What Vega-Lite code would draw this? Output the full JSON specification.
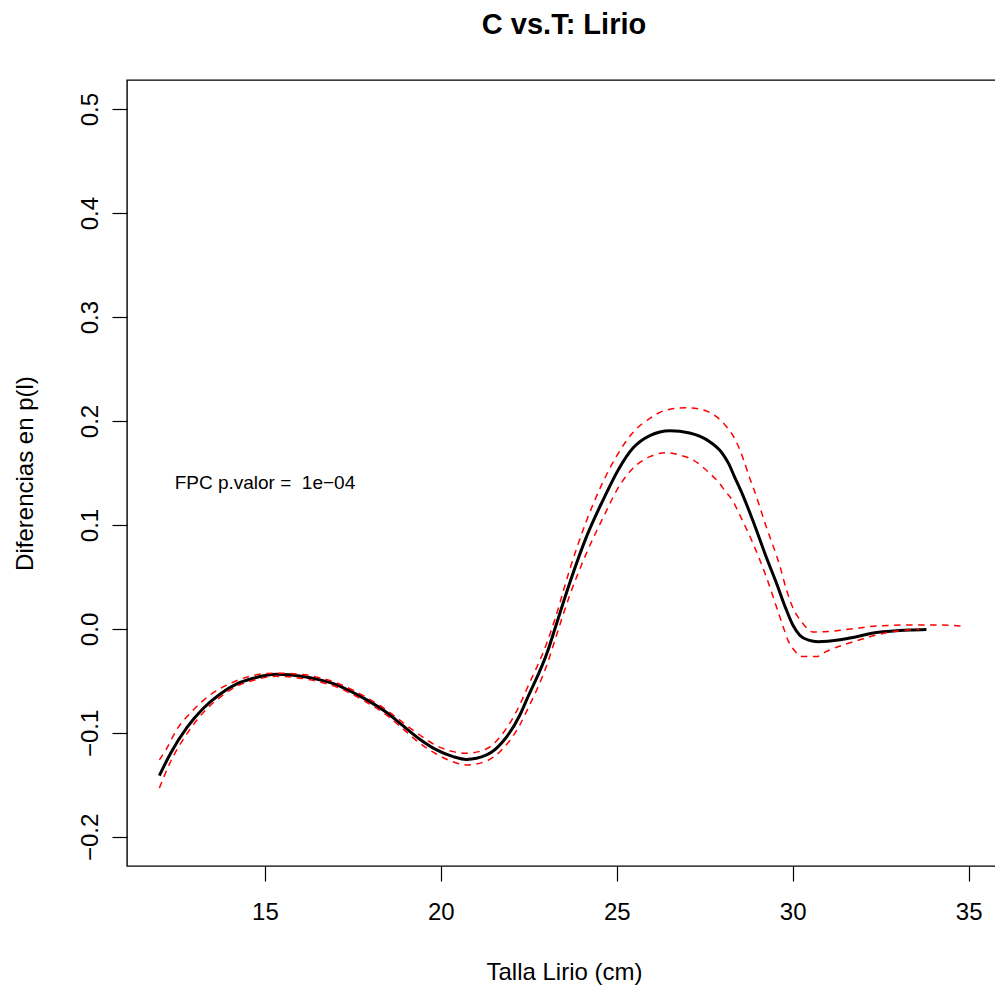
{
  "$schema": "https://vega.github.io/schema/vega-lite/v6.json",
  "width": 874,
  "height": 786,
  "autosize": {"type": "none"},
  "padding": {"left": 127, "top": 80, "right": 0, "bottom": 122},
  "background": "white",
  "config": {
    "font": "Liberation Sans",
    "view": {"stroke": "black", "strokeWidth": 1.4},
    "axis": {
      "grid": false,
      "domain": false,
      "tickColor": "black",
      "tickWidth": 1.2,
      "tickSize": 15,
      "labelFont": "Liberation Sans",
      "labelFontSize": 24,
      "labelColor": "black",
      "titleFont": "Liberation Sans",
      "titleFontSize": 24,
      "titleFontWeight": "normal",
      "titleColor": "black"
    }
  },
  "title": {
    "text": "C vs.T: Lirio",
    "anchor": "middle",
    "frame": "group",
    "font": "Liberation Sans",
    "fontSize": 29,
    "fontWeight": "bold",
    "color": "black",
    "baseline": "alphabetic",
    "offset": 17
  },
  "datasets": {
    "dif": [
      {"talla": 12.00, "d": -0.141}, {"talla": 12.32, "d": -0.1195}, {"talla": 12.79, "d": -0.0945},
      {"talla": 13.25, "d": -0.0763}, {"talla": 13.72, "d": -0.0628}, {"talla": 14.20, "d": -0.0529},
      {"talla": 14.67, "d": -0.0474}, {"talla": 15.33, "d": -0.0436}, {"talla": 16.09, "d": -0.0458},
      {"talla": 16.56, "d": -0.049}, {"talla": 17.04, "d": -0.0538}, {"talla": 17.51, "d": -0.0612},
      {"talla": 17.98, "d": -0.0699}, {"talla": 18.46, "d": -0.0804}, {"talla": 18.93, "d": -0.0933},
      {"talla": 19.40, "d": -0.106}, {"talla": 19.88, "d": -0.1163}, {"talla": 20.35, "d": -0.1228},
      {"talla": 20.73, "d": -0.1255}, {"talla": 21.30, "d": -0.1212}, {"talla": 21.77, "d": -0.108},
      {"talla": 22.25, "d": -0.0825}, {"talla": 22.44, "d": -0.068}, {"talla": 23.05, "d": -0.020},
      {"talla": 23.24, "d": 0.0}, {"talla": 23.67, "d": 0.045}, {"talla": 24.14, "d": 0.0888},
      {"talla": 24.61, "d": 0.124}, {"talla": 25.04, "d": 0.153}, {"talla": 25.46, "d": 0.174},
      {"talla": 25.94, "d": 0.186}, {"talla": 26.51, "d": 0.1907}, {"talla": 27.07, "d": 0.1885},
      {"talla": 27.64, "d": 0.1801}, {"talla": 28.02, "d": 0.168}, {"talla": 28.18, "d": 0.159},
      {"talla": 28.35, "d": 0.146}, {"talla": 28.59, "d": 0.128}, {"talla": 28.87, "d": 0.104},
      {"talla": 29.25, "d": 0.069}, {"talla": 29.55, "d": 0.043}, {"talla": 29.80, "d": 0.020},
      {"talla": 30.00, "d": 0.004}, {"talla": 30.20, "d": -0.006}, {"talla": 30.45, "d": -0.0108},
      {"talla": 30.72, "d": -0.0122}, {"talla": 31.43, "d": -0.0099}, {"talla": 32.38, "d": -0.0035},
      {"talla": 33.32, "d": -0.001}, {"talla": 33.80, "d": -0.0005}
    ],
    "sup": [
      {"talla": 12.00, "d": -0.126}, {"talla": 12.19, "d": -0.116}, {"talla": 12.49, "d": -0.097},
      {"talla": 12.92, "d": -0.0795}, {"talla": 13.44, "d": -0.0635}, {"talla": 14.01, "d": -0.0525},
      {"talla": 14.57, "d": -0.0455}, {"talla": 15.24, "d": -0.0425}, {"talla": 16.09, "d": -0.0438},
      {"talla": 16.56, "d": -0.047}, {"talla": 17.04, "d": -0.0518}, {"talla": 17.51, "d": -0.059},
      {"talla": 17.98, "d": -0.0677}, {"talla": 18.46, "d": -0.078}, {"talla": 18.93, "d": -0.0903},
      {"talla": 19.40, "d": -0.102}, {"talla": 19.88, "d": -0.1123}, {"talla": 20.35, "d": -0.118},
      {"talla": 20.73, "d": -0.1196}, {"talla": 21.30, "d": -0.1152}, {"talla": 21.77, "d": -0.100},
      {"talla": 22.25, "d": -0.0725}, {"talla": 22.44, "d": -0.058}, {"talla": 23.05, "d": -0.010},
      {"talla": 23.24, "d": 0.009}, {"talla": 23.67, "d": 0.058}, {"talla": 24.14, "d": 0.104},
      {"talla": 24.61, "d": 0.1416}, {"talla": 24.99, "d": 0.166}, {"talla": 25.46, "d": 0.189},
      {"talla": 25.94, "d": 0.2026}, {"talla": 26.41, "d": 0.2106}, {"talla": 26.98, "d": 0.2128},
      {"talla": 27.36, "d": 0.2115}, {"talla": 27.83, "d": 0.2042}, {"talla": 28.12, "d": 0.1945},
      {"talla": 28.40, "d": 0.180}, {"talla": 28.59, "d": 0.164}, {"talla": 28.78, "d": 0.145},
      {"talla": 28.92, "d": 0.132}, {"talla": 29.25, "d": 0.098}, {"talla": 29.64, "d": 0.060},
      {"talla": 29.82, "d": 0.038}, {"talla": 30.01, "d": 0.020}, {"talla": 30.25, "d": 0.007},
      {"talla": 30.58, "d": -0.003}, {"talla": 31.00, "d": -0.0025}, {"talla": 31.43, "d": -0.001},
      {"talla": 31.90, "d": 0.001}, {"talla": 32.38, "d": 0.0029}, {"talla": 33.32, "d": 0.0038},
      {"talla": 34.27, "d": 0.0038}, {"talla": 34.90, "d": 0.0023}
    ],
    "inf": [
      {"talla": 12.00, "d": -0.153}, {"talla": 12.32, "d": -0.1275}, {"talla": 12.79, "d": -0.1005},
      {"talla": 13.25, "d": -0.0803}, {"talla": 13.72, "d": -0.0658}, {"talla": 14.20, "d": -0.0551},
      {"talla": 14.67, "d": -0.0494}, {"talla": 15.33, "d": -0.0456}, {"talla": 16.09, "d": -0.0478},
      {"talla": 16.56, "d": -0.051}, {"talla": 17.04, "d": -0.0558}, {"talla": 17.51, "d": -0.0634},
      {"talla": 17.98, "d": -0.0722}, {"talla": 18.46, "d": -0.083}, {"talla": 18.93, "d": -0.0963},
      {"talla": 19.40, "d": -0.1098}, {"talla": 19.88, "d": -0.1205}, {"talla": 20.35, "d": -0.1278},
      {"talla": 20.73, "d": -0.1308}, {"talla": 21.30, "d": -0.127}, {"talla": 21.77, "d": -0.115},
      {"talla": 22.25, "d": -0.092}, {"talla": 22.44, "d": -0.079}, {"talla": 23.05, "d": -0.031},
      {"talla": 23.24, "d": -0.011}, {"talla": 23.67, "d": 0.033}, {"talla": 24.14, "d": 0.073},
      {"talla": 24.61, "d": 0.107}, {"talla": 25.09, "d": 0.1385}, {"talla": 25.46, "d": 0.1545},
      {"talla": 25.94, "d": 0.1657}, {"talla": 26.41, "d": 0.1695}, {"talla": 26.79, "d": 0.1673},
      {"talla": 27.17, "d": 0.1625}, {"talla": 27.64, "d": 0.1497}, {"talla": 27.92, "d": 0.140},
      {"talla": 28.07, "d": 0.133}, {"talla": 28.30, "d": 0.123}, {"talla": 28.49, "d": 0.110},
      {"talla": 28.87, "d": 0.0824}, {"talla": 29.25, "d": 0.050}, {"talla": 29.62, "d": 0.013},
      {"talla": 29.75, "d": 0.0}, {"talla": 29.88, "d": -0.012}, {"talla": 30.01, "d": -0.019},
      {"talla": 30.29, "d": -0.0266}, {"talla": 30.67, "d": -0.0266}, {"talla": 30.95, "d": -0.0218},
      {"talla": 31.89, "d": -0.0106}, {"talla": 32.83, "d": -0.0026}, {"talla": 33.60, "d": -0.0005}
    ],
    "nota": [
      {"talla": 15, "d": 0.14, "texto": "FPC p.valor = \u00a01e−04"}
    ]
  },
  "encoding": {
    "x": {
      "field": "talla",
      "type": "quantitative",
      "scale": {"domain": [11.08, 35.92], "nice": false, "zero": false},
      "axis": {
        "title": "Talla Lirio (cm)",
        "values": [15, 20, 25, 30, 35],
        "format": "d",
        "labelPadding": 19,
        "labelFlush": false,
        "labelOverlap": false,
        "titleBaseline": "alphabetic",
        "titleY": 113
      }
    },
    "y": {
      "field": "d",
      "type": "quantitative",
      "scale": {"domain": [-0.228, 0.528], "nice": false, "zero": false},
      "axis": {
        "title": "Diferencias en p(l)",
        "values": [-0.2, -0.1, 0, 0.1, 0.2, 0.3, 0.4, 0.5],
        "format": ".1f",
        "labelAngle": -90,
        "labelAlign": "center",
        "labelBaseline": "alphabetic",
        "labelPadding": 15,
        "labelFlush": false,
        "labelOverlap": false,
        "titleBaseline": "alphabetic",
        "titleAngle": -90,
        "titleX": -95
      }
    }
  },
  "layer": [
    {
      "mark": {"type": "rule", "color": "#BEBEBE", "strokeWidth": 3.4},
      "encoding": {"x": null, "y": {"datum": 0, "type": "quantitative"}}
    },
    {
      "data": {"name": "dif"},
      "mark": {"type": "line", "color": "black", "strokeWidth": 3, "interpolate": "monotone"}
    },
    {
      "data": {"name": "sup"},
      "mark": {"type": "line", "color": "#FF0000", "strokeWidth": 1.5, "strokeDash": [6.5, 5.5], "interpolate": "monotone"}
    },
    {
      "data": {"name": "inf"},
      "mark": {"type": "line", "color": "#FF0000", "strokeWidth": 1.5, "strokeDash": [6.5, 5.5], "interpolate": "monotone"}
    },
    {
      "data": {"name": "nota"},
      "mark": {"type": "text", "font": "Liberation Sans", "fontSize": 19, "align": "center", "baseline": "middle", "color": "black"},
      "encoding": {"text": {"field": "texto"}}
    }
  ]
}
